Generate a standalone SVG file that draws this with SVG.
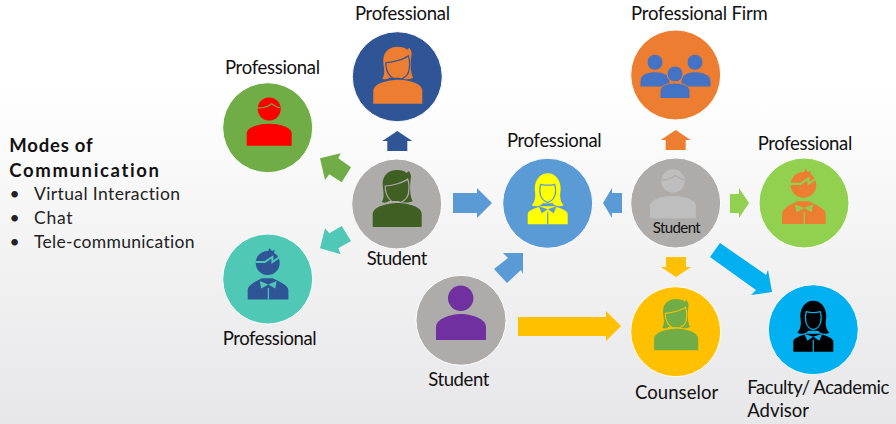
<svg xmlns="http://www.w3.org/2000/svg" xmlns:xlink="http://www.w3.org/1999/xlink" width="896" height="424" viewBox="0 0 896 424">
<style>
text{font-family:"Lato","Liberation Sans",sans-serif;font-size:18.5px;fill:#111;font-variant-ligatures:none}
.s{font-size:15px}
.h{font-size:18.5px;font-weight:700}
.l{font-size:17.5px;fill:#222}
.c{stroke:#fff;stroke-width:1}
.d{fill:none;stroke:currentColor;stroke-width:1.2}
.z{fill:none;stroke:currentColor;stroke-width:2}
.f{fill:currentColor}
</style>
<defs>
<linearGradient id="bg" x1="0" y1="0" x2="0" y2="1">
<stop offset="0.2" stop-color="#fff"/><stop offset="1" stop-color="#E7E6E8"/>
</linearGradient>
<g id="man">
<circle cx="1.5" cy="-18.7" r="11.5"/>
<path d="M-21,18V6C-21,-1-8,-4 1.5,-4C11,-4 24,-1 24,6V18Z"/>
<path class="d" d="M-11,-20C-5,-19 0,-21 4,-24C7,-22 10,-20 12.5,-20"/>
</g>
<g id="woman">
<path d="M-15,2C-11,-3-14.5,-12-14,-18C-13,-26-7,-30 0,-30C5,-30 8,-29 10,-27L12,-29C14,-26 15,-24 14,-21C13,-14 13,-4 16,1C12,3 6,3 2,1L-8,1C-10,3-13,3-15,2Z"/>
<path class="d" d="M-11.5,-14C-6,-14 6,-17 11,-21C13,-14 12,-9 12,-9C12,-2 6,3 0.5,3C-6,3-11.5,-4-11.5,-14Z"/>
<path d="M-24,27V14C-24,7-10,3 1,3C12,3 25,7 25,14V27Z"/>
</g>
<g id="boy">
<circle cx="0" cy="-16" r="12"/>
<path d="M0,-27L2,-31L4,-28L7,-29L6,-25L10,-23L5,-21Z"/>
<path class="z" d="M-12,-17H-3L4.7,-22V-17L12,-22"/>
<path d="M-19,20.5V11C-19,6-10,2-5,-0.7H6C11,2 21.7,6 21.7,11V20.5Z" transform="translate(-1,0)"/>
<path class="f" d="M0.7,5.5L-8,2L-6.5,9.5ZM0.7,5.5L9,2L7.5,9.5Z"/>
<path class="d" d="M0.7,9V20.5"/>
</g>
<g id="lady">
<path d="M-16,2C-12,-2-12,-8-13,-14C-13,-24-7,-30 0,-30C7,-30 13,-24 13,-14C12,-8 12,-2 16,2C12,4 7,3 5,0H-5C-7,3-12,4-16,2Z"/>
<path class="d" d="M-7,-19C-3,-18 3,-18 7,-19C9,-12 8,-3 0,-1C-8,-3-9,-12-7,-19Z"/>
<path d="M-20,21V11C-20,7-12,5-7,3L7,3C12,5 20,7 20,11V21Z"/>
<path class="f" d="M0,6L-9,3L-6,10ZM0,6L9,3L6,10Z"/>
<path class="d" d="M0,9V21"/>
</g>
<path id="up" d="M0,-10L15,0H10V10H-10V0H-15Z"/>
</defs>
<rect id="background" width="896" height="424" fill="url(#bg)"/>

<g id="connectors">
<use xlink:href="#up" href="#up" transform="translate(397.3,141)" fill="#2F5597"/>
<polygon fill="#70AD47" points="320,158.3 340.7,153.3 338.3,158.3 351,167.3 341.7,182.3 329.3,174.3 325,180"/>
<polygon fill="#4FC9B5" points="320,248.3 325,228.3 329.3,233.3 341.7,226 351,241 338.3,248.3 340.7,254.3"/>
<polygon fill="#5B9BD5" points="453,193 477,193 477,188 492,203 477,218 477,213 453,213"/>
<polygon fill="#5B9BD5" points="622,193 612,193 612,188 603,203 612,218 612,213 622,213"/>
<polygon fill="#5B9BD5" points="503,253 523,253 523,274 521,270 507,283 494,269 508,258"/>
<use xlink:href="#up" href="#up" transform="translate(675.7,140)" fill="#ED7D31"/>
<polygon fill="#92D050" points="730,194 739,194 739,188 749,203 739,218 739,213 730,213"/>
<polygon fill="#FFC000" points="666,257 686,257 686,267 691,267 676,277 661,267 666,267"/>
<polygon fill="#00B0F0" points="720,243 766,275 768,270 772,292 751,295 756,290 710,257"/>
<polygon fill="#FFC000" points="518,317 606,317 606,311 621,326 606,341 606,336 518,336"/>
</g>

<g id="n-red"><circle class="c" cx="267.7" cy="127.7" r="45" fill="#70AD47"/>
<use xlink:href="#man" href="#man" transform="translate(267.7,127.7)" fill="#F00" color="#70AD47"/>
<text x="225" y="74" textLength="95">Professional</text></g>

<g id="n-blue"><circle class="c" cx="397.3" cy="76.7" r="45" fill="#2F5597"/>
<use xlink:href="#woman" href="#woman" transform="translate(397.3,76.7)" fill="#ED7D31" color="#2F5597"/>
<text x="355" y="19.5" textLength="95">Professional</text></g>

<g id="n-student-a"><circle class="c" cx="396.7" cy="204" r="45" fill="#AEABAB"/>
<use xlink:href="#woman" href="#woman" transform="translate(396.7,200)" fill="#3F5F23" color="#AEABAB"/>
<text x="366.7" y="265" textLength="60.6">Student</text></g>

<g id="n-teal"><circle class="c" cx="267.7" cy="279" r="45" fill="#4FC9B5"/>
<use xlink:href="#boy" href="#boy" transform="translate(267.7,279)" fill="#2F5597" color="#4FC9B5"/>
<text x="222.7" y="345" textLength="94">Professional</text></g>

<g id="n-center"><circle class="c" cx="547.7" cy="203.3" r="45" fill="#5B9BD5"/>
<use xlink:href="#lady" href="#lady" transform="translate(547.7,203.3)" fill="#FF0" color="#5B9BD5"/>
<text x="507" y="147.3" textLength="94.7">Professional</text></g>

<g id="n-student-b"><circle class="c" cx="461" cy="320.3" r="45" fill="#AEABAB"/>
<circle cx="460.7" cy="298.3" r="12.7" fill="#7030A0"/>
<path d="M436,340V327C436,319 450,314 461,314C472,314 486,319 486,327V340Z" fill="#7030A0"/>
<text x="428.3" y="385.7" textLength="61">Student</text></g>

<g id="n-student-c"><circle class="c" cx="675.7" cy="203" r="45" fill="#AEABAB"/>
<use xlink:href="#man" href="#man" transform="translate(671.4,200) scale(1.02)" fill="#BFBEBE" color="#AEABAB"/>
<text class="s" x="652.7" y="232.7" textLength="48">Student</text></g>

<g id="n-firm"><circle class="c" cx="675.7" cy="75" r="45" fill="#ED7D31"/>
<g fill="#4472C4" stroke="#ED7D31" stroke-width="1">
<circle cx="655" cy="62.3" r="8"/><circle cx="695" cy="62.3" r="8"/>
<path d="M640,87V81C640,75 647,71.7 655,71.7C663,71.7 670,75 670,81V87Z"/>
<path d="M681,87V81C681,75 688,71.7 695,71.7C703,71.7 711,75 711,81V87Z"/>
<circle cx="675" cy="74" r="8"/>
<path d="M660,98.5V91C660,86 667,83 675,83C683,83 690,86 690,91V98.5Z"/>
</g>
<text x="631" y="20" textLength="136.7">Professional Firm</text></g>

<g id="n-green"><circle class="c" cx="804" cy="203" r="45" fill="#92D050"/>
<use xlink:href="#boy" href="#boy" transform="translate(803.5,202) scale(1.07)" fill="#ED7D31" color="#92D050"/>
<text x="757.7" y="150" textLength="94.6">Professional</text></g>

<g id="n-yellow"><circle class="c" cx="675.7" cy="331.7" r="45" fill="#FFC000"/>
<use xlink:href="#woman" href="#woman" transform="translate(675.7,326) scale(.9)" fill="#70AD47" color="#FFC000"/>
<text x="635" y="399.3" textLength="83.3">Counselor</text></g>

<g id="n-cyan"><circle class="c" cx="813.3" cy="329.7" r="45" fill="#00B0F0"/>
<use xlink:href="#lady" href="#lady" transform="translate(813.3,330.7)" fill="#000" color="#00B0F0"/>
<text x="747.3" y="394" textLength="142">Faculty/ Academic</text>
<text x="747.3" y="417.3" textLength="61.7">Advisor</text></g>

<g id="legend">
<text class="h" x="9.3" y="152.3" textLength="83.4">Modes of</text>
<text class="h" x="9.3" y="176.7" textLength="149.7">Communication</text>
<text class="l" x="9.5" y="200">•</text><text class="l" x="34" y="200" textLength="146">Virtual Interaction</text>
<text class="l" x="9.5" y="224">•</text><text class="l" x="34" y="224" textLength="38.5">Chat</text>
<text class="l" x="9.5" y="247.7">•</text><text class="l" x="34" y="247.7" textLength="160.5">Tele-communication</text>
</g>
</svg>
